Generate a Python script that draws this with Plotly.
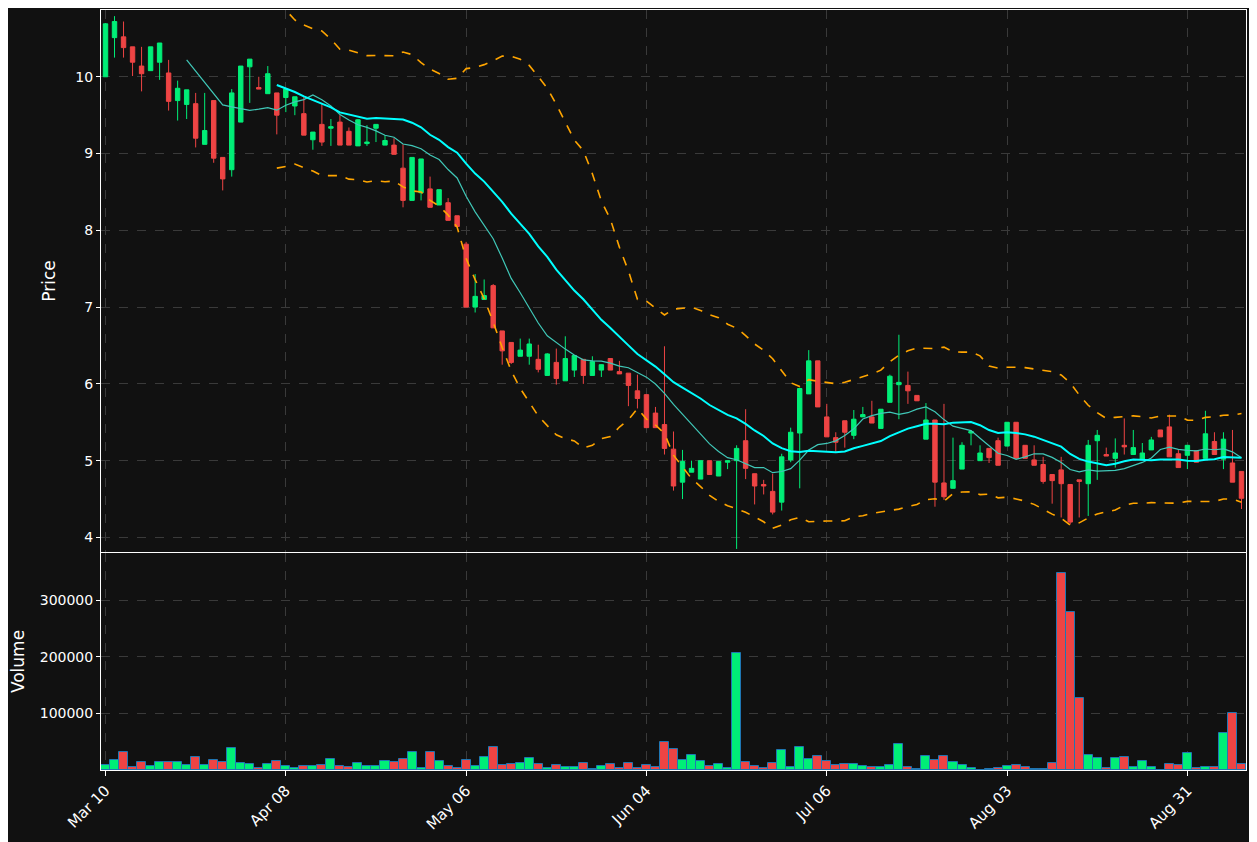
import pandas as pd
import plotly.graph_objects as go

holidays = ['2026-04-03', '2026-05-25', '2026-06-19', '2026-07-03', '2026-09-07']
days = [d for d in pd.bdate_range('2026-03-10', periods=140) if d.strftime('%Y-%m-%d') not in holidays][:127]
dates = [d.strftime('%Y-%m-%d') for d in days]

opens = [10.0, 10.51, 10.52, 10.39, 10.14, 10.08, 10.19, 10.05, 9.69, 9.64,
         9.65, 9.12, 9.69, 8.95, 8.79, 9.41, 10.13, 9.86, 9.78, 9.79,
         9.73, 9.62, 9.52, 9.18, 9.38, 9.33, 9.41, 9.29, 9.10, 9.13,
         9.33, 9.11, 9.11, 8.81, 8.39, 8.49, 8.54, 8.33, 8.36, 8.19,
         7.82, 7.0, 7.10, 7.28, 6.69, 6.54, 6.36, 6.36, 6.32, 6.11,
         6.28, 6.04, 6.18, 6.32, 6.11, 6.18, 6.33, 6.16, 6.14, 5.91,
         5.86, 5.62, 5.47, 5.15, 4.72, 4.85, 4.76, 5.0, 4.80, 4.98,
         5.0, 5.26, 4.83, 4.69, 4.60, 4.46, 5.01, 5.36, 5.87, 6.30,
         5.57, 5.30, 5.52, 5.33, 5.57, 5.57, 5.42, 5.76, 5.99, 5.98,
         5.85, 5.28, 5.53, 4.71, 4.64, 4.89, 5.36, 5.0, 5.16, 5.26,
         5.19, 5.50, 5.20, 5.01, 4.95, 4.82, 4.88, 4.69, 4.75, 4.70,
         5.26, 5.08, 5.03, 5.20, 5.08, 5.02, 5.14, 5.40, 5.44, 5.09,
         5.07, 5.13, 5.03, 5.25, 5.02, 4.97, 4.86]
closes = [10.69, 10.72, 10.38, 10.19, 10.04, 10.39, 10.44, 9.68, 9.85, 9.83,
          9.20, 9.30, 8.94, 8.67, 9.79, 10.14, 10.23, 9.84, 10.04, 9.50,
          9.84, 9.74, 9.24, 9.28, 9.15, 9.35, 9.11, 9.11, 9.44, 9.15,
          9.38, 9.17, 8.99, 8.39, 8.95, 8.93, 8.30, 8.53, 8.13, 8.05,
          7.0, 7.14, 7.15, 6.73, 6.43, 6.28, 6.44, 6.52, 6.19, 6.39,
          6.07, 6.33, 6.37, 6.11, 6.29, 6.25, 6.18, 6.13, 5.98, 5.81,
          5.43, 5.43, 5.16, 4.67, 4.99, 4.90, 5.0, 4.82, 4.99, 5.0,
          5.16, 4.90, 4.67, 4.67, 4.33, 5.05, 5.37, 5.94, 6.30, 5.70,
          5.31, 5.24, 5.37, 5.54, 5.60, 5.49, 5.67, 6.10, 6.02, 5.91,
          5.78, 5.53, 4.72, 4.53, 4.74, 5.20, 5.38, 5.10, 5.04, 4.94,
          5.50, 5.03, 5.03, 4.94, 4.73, 4.74, 4.70, 4.20, 4.73, 5.20,
          5.33, 5.06, 5.10, 5.18, 5.17, 5.10, 5.27, 5.31, 5.05, 4.91,
          5.20, 4.98, 5.35, 5.08, 5.28, 4.72, 4.51]
highs = [10.70, 10.79, 10.72, 10.39, 10.39, 10.39, 10.44, 10.22, 9.95, 9.83,
         9.79, 9.79, 9.69, 8.95, 9.84, 10.14, 10.23, 10.0, 10.14, 9.79,
         9.84, 9.74, 9.74, 9.28, 9.65, 9.45, 9.50, 9.34, 9.45, 9.37,
         9.38, 9.24, 9.20, 9.12, 8.95, 8.93, 8.70, 8.53, 8.42, 8.19,
         7.85, 7.43, 7.36, 7.30, 6.69, 6.54, 6.59, 6.59, 6.51, 6.40,
         6.46, 6.62, 6.37, 6.32, 6.36, 6.22, 6.33, 6.30, 6.14, 6.12,
         5.86, 5.70, 6.49, 5.38, 5.14, 5.0, 5.0, 5.0, 4.99, 5.0,
         5.20, 5.67, 4.83, 4.75, 4.83, 5.09, 5.43, 5.94, 6.44, 6.30,
         5.74, 5.37, 5.52, 5.66, 5.70, 5.78, 5.67, 6.12, 6.64, 6.16,
         5.85, 5.75, 5.53, 5.74, 5.30, 5.24, 5.40, 5.20, 5.16, 5.30,
         5.50, 5.50, 5.20, 5.20, 5.05, 4.82, 5.05, 4.69, 4.75, 5.27,
         5.40, 5.17, 5.29, 5.55, 5.40, 5.23, 5.31, 5.40, 5.60, 5.15,
         5.20, 5.13, 5.65, 5.37, 5.37, 5.40, 4.86]
lows = [10.0, 10.25, 10.25, 10.01, 9.81, 10.08, 9.96, 9.56, 9.43, 9.45,
        9.08, 9.12, 8.88, 8.52, 8.70, 9.41, 9.66, 9.84, 9.78, 9.25,
        9.54, 9.50, 9.24, 9.05, 9.10, 9.10, 9.11, 9.11, 9.10, 9.10,
        9.15, 9.11, 8.99, 8.30, 8.39, 8.39, 8.30, 8.33, 8.13, 8.05,
        7.0, 6.93, 7.10, 6.73, 6.25, 6.26, 6.36, 6.25, 6.15, 6.11,
        5.99, 6.04, 6.09, 6.0, 6.11, 6.09, 6.18, 6.13, 5.71, 5.68,
        5.43, 5.43, 5.08, 4.61, 4.50, 4.85, 4.76, 4.82, 4.80, 4.89,
        3.85, 4.76, 4.43, 4.56, 4.30, 4.35, 4.98, 4.64, 5.87, 5.70,
        5.31, 5.11, 5.17, 5.28, 5.57, 5.49, 5.42, 5.76, 5.54, 5.74,
        5.78, 5.28, 4.40, 4.49, 4.64, 4.89, 5.20, 5.0, 4.97, 4.94,
        5.19, 5.03, 5.03, 4.94, 4.70, 4.44, 4.26, 4.17, 4.26, 4.28,
        4.75, 5.06, 4.91, 5.08, 5.08, 5.02, 5.14, 5.31, 5.05, 4.91,
        4.89, 4.98, 5.03, 5.08, 4.89, 4.72, 4.37]
volumes = [8400, 17000, 32000, 5000, 14000, 7000, 14000, 14000, 14000, 8000,
           23000, 8000, 17000, 14000, 39000, 12000, 10000, 3000, 10000, 16000,
           7000, 3000, 7000, 7000, 8000, 19000, 7000, 5000, 12000, 7000,
           7000, 16000, 14000, 19000, 32000, 3000, 32000, 16000, 7000, 3000,
           17000, 7000, 23000, 41000, 8000, 10000, 12000, 21000, 10000, 3000,
           8000, 5000, 5000, 12000, 1000, 7000, 10000, 3000, 12000, 3000,
           8000, 5000, 50000, 37000, 17000, 26000, 16000, 7000, 10000, 3000,
           207000, 14000, 7000, 3000, 12000, 35000, 5000, 41000, 19000, 25000,
           16000, 8000, 10000, 10000, 7000, 5000, 5000, 8000, 46000, 5000,
           1000, 25000, 17000, 25000, 14000, 8000, 3000, 500, 1000, 3000,
           7000, 8000, 5000, 1000, 1000, 12000, 348000, 279000, 127000, 26000,
           21000, 3000, 21000, 23000, 5000, 16000, 5000, 500, 10000, 8000,
           30000, 3000, 5000, 5000, 66000, 100000, 10000]

GREEN = '#00ee77'
RED = '#ee4444'
s = pd.Series(closes)
sma10 = s.rolling(10).mean()
sma20 = s.rolling(20).mean()
std20 = s.rolling(20).std(ddof=0)
upper = sma20 + 2 * std20
lower = sma20 - 2 * std20
vcolors = [GREEN if c >= o else RED for o, c in zip(opens, closes)]

fig = go.Figure()
fig.add_trace(go.Candlestick(x=dates, open=opens, high=highs, low=lows, close=closes,
                             increasing=dict(line=dict(color=GREEN, width=1), fillcolor=GREEN),
                             decreasing=dict(line=dict(color=RED, width=1), fillcolor=RED),
                             whiskerwidth=0, showlegend=False, xaxis='x', yaxis='y'))
fig.add_trace(go.Scatter(x=dates, y=sma10, mode='lines', line=dict(color='#40c8b8', width=1.2),
                         showlegend=False, xaxis='x', yaxis='y'))
fig.add_trace(go.Scatter(x=dates, y=sma20, mode='lines', line=dict(color='#00ffff', width=2),
                         showlegend=False, xaxis='x', yaxis='y'))
for band in (upper, lower):
    fig.add_trace(go.Scatter(x=dates, y=band, mode='lines',
                             line=dict(color='#ffa500', width=1.6, dash='dash'),
                             showlegend=False, xaxis='x', yaxis='y'))
fig.add_trace(go.Bar(x=dates, y=volumes, marker=dict(color=vcolors, line=dict(color='#1f77b4', width=1)),
                     showlegend=False, xaxis='x2', yaxis='y2'))

tickvals = dates[::20]
ticktext = [d.strftime('%b %d') for d in days[::20]]
axcommon = dict(type='category', categoryorder='array', categoryarray=dates,
                range=[-0.5, 126.5], showline=True, linecolor='white', linewidth=1, mirror=True,
                gridcolor='#3a3a3a', griddash='dash', tickvals=tickvals, ticktext=ticktext,
                tickfont=dict(color='white', size=15), zeroline=False)
fig.update_layout(
    width=1249, height=834, paper_bgcolor='#111111', plot_bgcolor='#111111',
    margin=dict(l=93, r=11, t=2, b=72),
    font=dict(family='DejaVu Sans', color='white', size=14),
    bargap=0.0,
    xaxis=dict(**axcommon, domain=[0, 1], anchor='y', showticklabels=False,
               rangeslider=dict(visible=False)),
    xaxis2=dict(**axcommon, domain=[0, 1], anchor='y2', matches='x', tickangle=-45,
                ticks='outside', tickcolor='white', ticklen=5),
    yaxis=dict(domain=[0.2868, 1], range=[3.81, 10.87], dtick=1, title=dict(text='Price'),
               showline=True, linecolor='white', mirror=True, gridcolor='#3a3a3a', griddash='dash',
               zeroline=False, ticks='outside', tickcolor='white', ticklen=4),
    yaxis2=dict(domain=[0, 0.2855], range=[0, 384000], tickvals=[100000, 200000, 300000],
                tickformat='d', title=dict(text='Volume'),
                showline=True, linecolor='white', mirror=True, gridcolor='#3a3a3a', griddash='dash',
                zeroline=False, ticks='outside', tickcolor='white', ticklen=4),
)
fig.write_html('out.html')
